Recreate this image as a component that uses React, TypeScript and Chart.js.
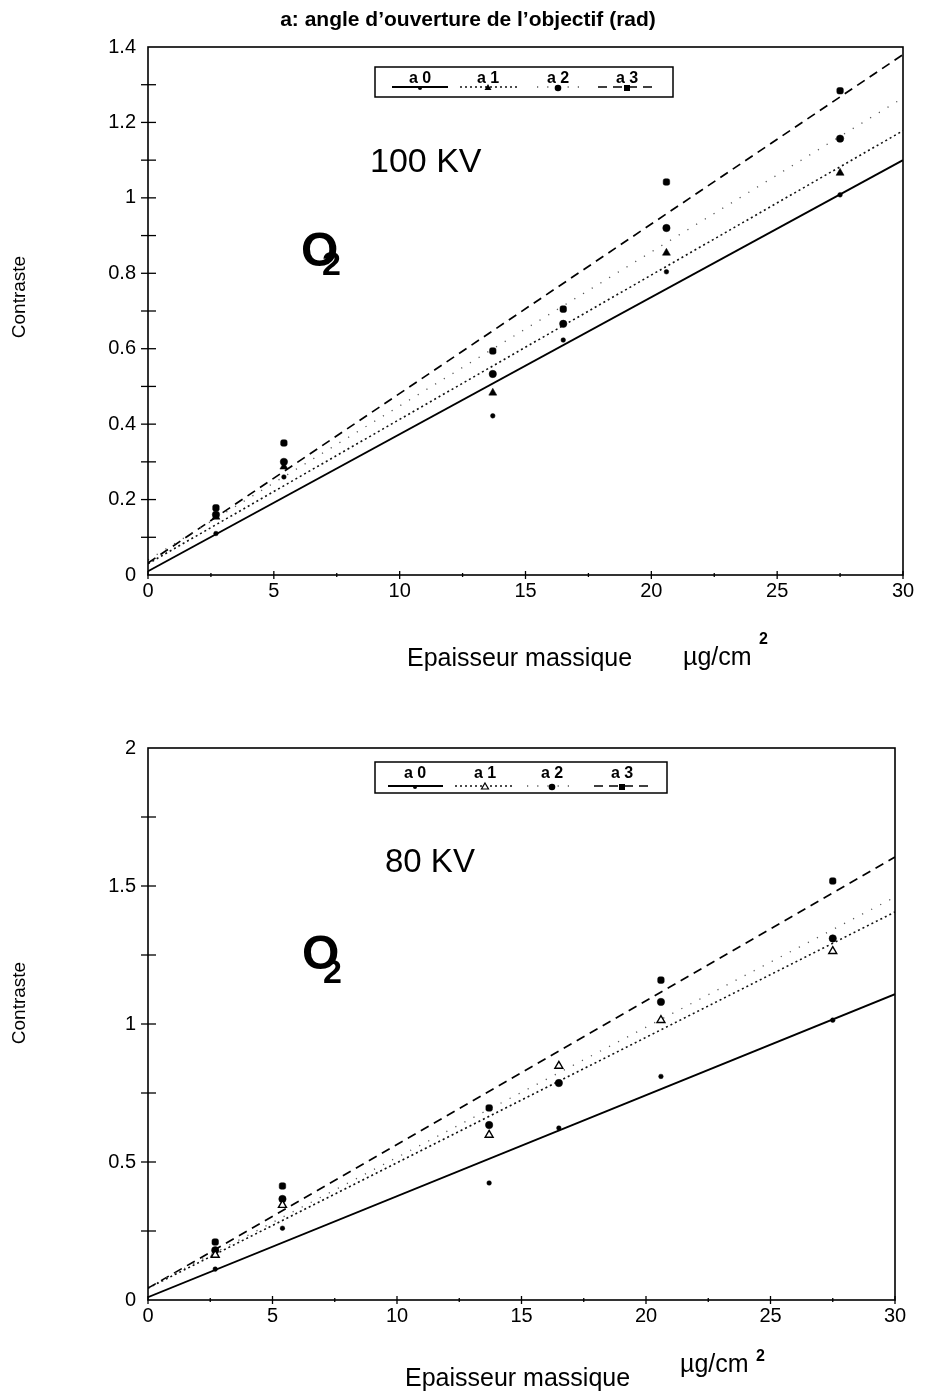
import React, { useEffect, useRef } from 'react';
import { Chart, registerables } from 'chart.js';

Chart.register(...registerables);

const FONT = '"Liberation Sans", Arial, Helvetica, sans-serif';

// ---------- data ----------
const thickness = [2.7, 5.4, 13.7, 16.5, 20.6, 27.5];
const fitRange = [0, 30];
const seriesLabels = ['a 0', 'a 1', 'a 2', 'a 3'];
const xTickLabels = ['0', '5', '10', '15', '20', '25', '30'];
const yTickLabels100 = ['0', '0.2', '0.4', '0.6', '0.8', '1', '1.2', '1.4'];
const yTickLabels80 = ['0', '0.5', '1', '1.5', '2'];

// 100 KV
const kv100A0 = [0.11, 0.26, 0.422, 0.623, 0.804, 1.008];
const kv100A1 = [0.154, 0.287, 0.483, null, 0.854, 1.066];
const kv100A2 = [0.16, 0.3, 0.533, 0.666, 0.92, 1.157];
const kv100A3 = [0.178, 0.35, 0.594, 0.705, 1.042, 1.284];
const kv100FitA0 = [0.01, 1.1];
const kv100FitA1 = [0.03, 1.178];
const kv100FitA2 = [0.04, 1.265];
const kv100FitA3 = [0.032, 1.38];

// 80 KV
const kv80A0 = [0.112, 0.26, 0.424, 0.623, 0.81, 1.014];
const kv80A1 = [0.163, 0.344, 0.598, 0.848, 1.014, 1.264];
const kv80A2 = [0.18, 0.366, 0.634, 0.786, 1.08, 1.31];
const kv80A3 = [0.21, 0.413, 0.696, null, 1.159, 1.518];
const kv80FitA0 = [0.01, 1.108];
const kv80FitA1 = [0.043, 1.406];
const kv80FitA2 = [0.045, 1.46];
const kv80FitA3 = [0.043, 1.605];

// ---------- styles ----------
const lineDash = [[], [2, 3], [1.2, 9], [9, 6]];
const lineWidths = [1.9, 1.6, 1.3, 1.7];
const lineColors = ['#000', '#111', '#555', '#000'];

type PanelDef = {
  canvasTop: number;
  canvasHeight: number;
  padTop: number;
  padRight: number;
  xAxisHeight: number;
  yMax: number;
  yStep: number;
  yLabels: string[];
  points: (number | null)[][];
  fits: number[][];
  openTriangle: boolean;
  title?: string;
  kv: string;
  kvSize: number;
  kvPos: [number, number];
  oPos: [number, number];
  twoPos: [number, number];
  yTitleY: number;
  xTitleBase: number;
  unitBase: number;
  supBase: number;
  xTitleLeft: number;
  unitLeft: number;
  supLeft: number;
  legendBox: [number, number, number, number];
  legendText: number[];
  legendTextBase: number;
  legendLineY: number;
  legendLines: [number, number][];
};

const panels: PanelDef[] = [
  {
    canvasTop: 0,
    canvasHeight: 700,
    padTop: 47,
    padRight: 22,
    xAxisHeight: 125,
    yMax: 1.4,
    yStep: 0.1,
    yLabels: yTickLabels100,
    points: [kv100A0, kv100A1, kv100A2, kv100A3],
    fits: [kv100FitA0, kv100FitA1, kv100FitA2, kv100FitA3],
    openTriangle: false,
    title: "a: angle d\u2019ouverture de l\u2019objectif (rad)",
    kv: '100 KV',
    kvSize: 34,
    kvPos: [370, 172],
    oPos: [301, 266],
    twoPos: [322, 275],
    yTitleY: 297,
    xTitleBase: 666,
    unitBase: 665,
    supBase: 644,
    xTitleLeft: 407,
    unitLeft: 683,
    supLeft: 759,
    legendBox: [375, 67, 673, 97],
    legendText: [420, 488, 558, 627],
    legendTextBase: 83,
    legendLineY: 87,
    legendLines: [[392, 448], [460, 517], [537, 582], [598, 654]],
  },
  {
    canvasTop: 700,
    canvasHeight: 697,
    padTop: 48,
    padRight: 30,
    xAxisHeight: 97,
    yMax: 2,
    yStep: 0.25,
    yLabels: yTickLabels80,
    points: [kv80A0, kv80A1, kv80A2, kv80A3],
    fits: [kv80FitA0, kv80FitA1, kv80FitA2, kv80FitA3],
    openTriangle: true,
    kv: '80 KV',
    kvSize: 33,
    kvPos: [385, 172],
    oPos: [302, 269],
    twoPos: [323, 283],
    yTitleY: 303,
    xTitleBase: 686,
    unitBase: 672,
    supBase: 661,
    xTitleLeft: 405,
    unitLeft: 680,
    supLeft: 756,
    legendBox: [375, 62, 667, 93],
    legendText: [415, 485, 552, 622],
    legendTextBase: 78,
    legendLineY: 86,
    legendLines: [[388, 443], [455, 512], [527, 575], [594, 650]],
  },
];

function drawMarker(ctx: CanvasRenderingContext2D, kind: number, x: number, y: number, open: boolean) {
  ctx.save();
  ctx.fillStyle = '#000';
  ctx.strokeStyle = '#000';
  ctx.lineWidth = 1.2;
  ctx.setLineDash([]);
  ctx.beginPath();
  if (kind === 0) {
    ctx.arc(x, y, 2, 0, Math.PI * 2);
    ctx.fill();
  } else if (kind === 1) {
    const r = 4;
    ctx.moveTo(x, y - r);
    ctx.lineTo(x + r * 0.87, y + r * 0.5);
    ctx.lineTo(x - r * 0.87, y + r * 0.5);
    ctx.closePath();
    if (open) {
      ctx.fillStyle = '#fff';
      ctx.fill();
      ctx.stroke();
    } else ctx.fill();
  } else if (kind === 2) {
    ctx.arc(x, y, 3.3, 0, Math.PI * 2);
    ctx.fill();
  } else {
    ctx.rect(x - 3, y - 3, 6, 6);
    ctx.fill();
  }
  ctx.restore();
}

function makeDecor(p: PanelDef) {
  return {
    id: 'decor',
    afterDraw(chart: any) {
      const { ctx, chartArea: a, scales } = chart;
      const xs = scales.x;
      const ys = scales.y;
      ctx.save();
      // frame
      ctx.strokeStyle = '#000';
      ctx.lineWidth = 1.6;
      ctx.setLineDash([]);
      ctx.strokeRect(a.left, a.top, a.right - a.left, a.bottom - a.top);
      // y ticks (crossing the axis)
      ctx.lineWidth = 1.3;
      ys.ticks.forEach((t: any) => {
        const y = ys.getPixelForValue(t.value);
        if (y < a.top + 1 || y > a.bottom - 1) return;
        ctx.beginPath();
        ctx.moveTo(a.left - 7, y);
        ctx.lineTo(a.left + 8, y);
        ctx.stroke();
      });
      // x ticks
      xs.ticks.forEach((t: any) => {
        const x = xs.getPixelForValue(t.value);
        const major = Math.abs(t.value / 5 - Math.round(t.value / 5)) < 1e-6;
        const h = major ? 4 : 2;
        ctx.beginPath();
        ctx.moveTo(x, a.bottom - h);
        ctx.lineTo(x, a.bottom + h);
        ctx.stroke();
      });

      ctx.fillStyle = '#000';
      ctx.textBaseline = 'alphabetic';
      // title
      if (p.title) {
        ctx.font = `bold 21px ${FONT}`;
        ctx.textAlign = 'center';
        ctx.fillText(p.title, 468, 26);
      }
      // KV label
      ctx.textAlign = 'left';
      ctx.font = `${p.kvSize}px ${FONT}`;
      ctx.fillText(p.kv, p.kvPos[0], p.kvPos[1]);
      // O2
      ctx.font = `bold 48px ${FONT}`;
      ctx.fillText('O', p.oPos[0], p.oPos[1]);
      ctx.font = `bold 34px ${FONT}`;
      ctx.fillText('2', p.twoPos[0], p.twoPos[1]);
      // y title
      ctx.save();
      ctx.translate(25, p.yTitleY);
      ctx.rotate(-Math.PI / 2);
      ctx.textAlign = 'center';
      ctx.font = `19px ${FONT}`;
      ctx.fillText('Contraste', 0, 0);
      ctx.restore();
      // x title
      ctx.font = `25px ${FONT}`;
      ctx.textAlign = 'left';
      ctx.fillText('Epaisseur massique', p.xTitleLeft, p.xTitleBase);
      ctx.fillText('\u00b5g/cm', p.unitLeft, p.unitBase);
      ctx.font = `bold 16px ${FONT}`;
      ctx.fillText('2', p.supLeft, p.supBase);

      // legend
      const [bx1, by1, bx2, by2] = p.legendBox;
      ctx.lineWidth = 1.5;
      ctx.strokeRect(bx1, by1, bx2 - bx1, by2 - by1);
      ctx.font = `bold 16px ${FONT}`;
      ctx.textAlign = 'center';
      seriesLabels.forEach((lab, i) => {
        ctx.fillStyle = '#000';
        ctx.fillText(lab, p.legendText[i], p.legendTextBase);
        ctx.save();
        ctx.strokeStyle = lineColors[i];
        ctx.lineWidth = lineWidths[i];
        ctx.setLineDash(lineDash[i]);
        ctx.beginPath();
        ctx.moveTo(p.legendLines[i][0], p.legendLineY);
        ctx.lineTo(p.legendLines[i][1], p.legendLineY);
        ctx.stroke();
        ctx.restore();
        drawMarker(ctx, i, p.legendText[i], p.legendLineY + 1, p.openTriangle && i === 1);
      });
      ctx.restore();
    },
  };
}

function buildConfig(p: PanelDef): any {
  const lineSets = p.fits.map((f, i) => ({
    type: 'scatter',
    data: fitRange.map((x, k) => ({ x, y: f[k] })),
    showLine: true,
    borderColor: lineColors[i],
    borderWidth: lineWidths[i],
    borderDash: lineDash[i],
    pointRadius: 0,
    order: 10,
  }));
  const styles = ['circle', 'triangle', 'circle', 'rectRounded'];
  const radii = [2.3, 4.6, 3.7, 3.8];
  const pointSets = p.points.map((vals, i) => ({
    type: 'scatter',
    data: thickness.map((x, k) => ({ x, y: vals[k] })).filter((d) => d.y !== null),
    showLine: false,
    pointStyle: styles[i],
    pointRadius: radii[i],
    pointBackgroundColor: p.openTriangle && i === 1 ? '#fff' : '#000',
    pointBorderColor: '#000',
    pointBorderWidth: p.openTriangle && i === 1 ? 1.4 : 0.5,
    order: 1,
  }));
  return {
    type: 'scatter',
    data: { datasets: [...lineSets, ...pointSets] },
    options: {
      animation: false,
      responsive: false,
      devicePixelRatio: 1,
      layout: { padding: { top: p.padTop, right: p.padRight, left: 0, bottom: 0 } },
      plugins: { legend: { display: false }, tooltip: { enabled: false } },
      scales: {
        x: {
          type: 'linear',
          min: 0,
          max: 30,
          grid: { display: false },
          border: { display: false },
          afterFit: (s: any) => {
            s.height = p.xAxisHeight;
          },
          ticks: {
            stepSize: 2.5,
            autoSkip: false,
            maxRotation: 0,
            padding: -4,
            color: '#000',
            font: { family: FONT, size: 20 },
            callback: (v: number) => (xTickLabels.includes(String(v)) ? String(v) : ''),
          },
        },
        y: {
          type: 'linear',
          min: 0,
          max: p.yMax,
          grid: { display: false },
          border: { display: false },
          afterFit: (s: any) => {
            s.width = 148;
          },
          ticks: {
            stepSize: p.yStep,
            autoSkip: false,
            padding: 4,
            color: '#000',
            font: { family: FONT, size: 20 },
            callback: (v: number) => {
              const s = String(Math.round(v * 100) / 100);
              return p.yLabels.includes(s) ? s : '';
            },
          },
        },
      },
    },
    plugins: [makeDecor(p)],
  };
}

function Panel({ p }: { p: PanelDef }) {
  const ref = useRef<HTMLCanvasElement | null>(null);
  useEffect(() => {
    if (!ref.current) return;
    const chart = new Chart(ref.current, buildConfig(p));
    return () => chart.destroy();
  }, [p]);
  return (
    <canvas
      ref={ref}
      width={925}
      height={p.canvasHeight}
      style={{ position: 'absolute', left: 0, top: p.canvasTop, width: 925, height: p.canvasHeight }}
    />
  );
}

export default function App() {
  return (
    <div style={{ position: 'absolute', left: 0, top: 0, width: 925, height: 1397, background: '#fff' }}>
      {panels.map((p, i) => (
        <Panel key={i} p={p} />
      ))}
    </div>
  );
}
